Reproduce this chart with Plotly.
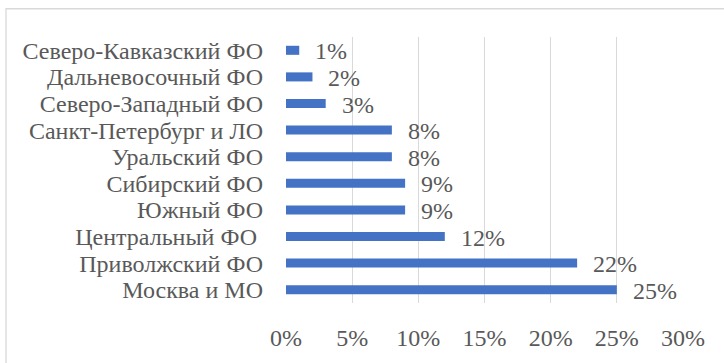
import plotly.graph_objects as go

# Regions, top to bottom as drawn
regions = [
    "Северо-Кавказский ФО",
    "Дальневосочный ФО",
    "Северо-Западный ФО",
    "Санкт-Петербург и ЛО",
    "Уральский ФО",
    "Сибирский ФО",
    "Южный ФО",
    "Центральный ФО\u00a0",
    "Приволжский ФО",
    "Москва и МО",
]
shares = [0.01, 0.02, 0.03, 0.08, 0.08, 0.09, 0.09, 0.12, 0.22, 0.25]

x_ticks = [0, 0.05, 0.10, 0.15, 0.20, 0.25, 0.30]
x_tick_labels = ["0%", "5%", "10%", "15%", "20%", "25%", "30%"]

FONT = "Liberation Serif"
FS = 24
GREY = "#595959"
W, H = 724, 363
L, R, T, B = 286, 41, 37, 53
pw, ph = W - L - R, H - T - B

fig = go.Figure(
    go.Bar(
        x=shares,
        y=regions,
        orientation="h",
        marker=dict(color="#4472C4", line=dict(width=0)),
        width=0.34,
        hoverinfo="skip",
    )
)

# value labels to the right of each bar
for r, v in zip(regions, shares):
    fig.add_annotation(
        x=v, y=r, xref="x", yref="y",
        text=f"{round(v * 100)}%",
        showarrow=False, xanchor="left", yanchor="middle",
        xshift=14, yshift=-1,
        font=dict(family=FONT, size=FS, color=GREY),
    )

# chart frame
fig.add_shape(
    type="rect", xref="paper", yref="paper",
    x0=(6 - L) / pw, x1=(W + 20 - L) / pw,
    y0=-(H + 20 - T - ph) / ph, y1=(T + ph - 8) / ph,
    line=dict(color="#D9D9D9", width=1.3), fillcolor="rgba(0,0,0,0)",
    layer="below",
)

# heading number above the frame, mostly outside the page
fig.add_annotation(
    x=(6 - L) / pw, y=(T + ph + 6) / ph, xref="paper", yref="paper",
    text="1.", showarrow=False, xanchor="left", yanchor="bottom",
    font=dict(family=FONT, size=FS, color="#000000"),
)

fig.update_layout(
    width=W, height=H,
    margin=dict(l=L, r=R, t=T, b=B, pad=0),
    paper_bgcolor="white", plot_bgcolor="white",
    showlegend=False,
    font=dict(family=FONT, size=FS, color=GREY),
    xaxis=dict(
        range=[0, 0.30],
        tickmode="array", tickvals=x_ticks, ticktext=x_tick_labels,
        showgrid=True, gridcolor="#D9D9D9", gridwidth=1.3,
        zeroline=False, showline=False, ticks="",
        ticklabelstandoff=18,
        tickfont=dict(family=FONT, size=FS, color=GREY),
        fixedrange=True,
    ),
    yaxis=dict(
        categoryorder="array", categoryarray=list(reversed(regions)),
        range=[-0.5, len(regions) - 0.5],
        tickmode="array", tickvals=regions, ticktext=regions,
        showgrid=False, zeroline=False, showline=False, ticks="",
        ticklabelstandoff=22,
        tickfont=dict(family=FONT, size=FS, color=GREY),
        fixedrange=True,
    ),
)

fig.write_html("out.html")
